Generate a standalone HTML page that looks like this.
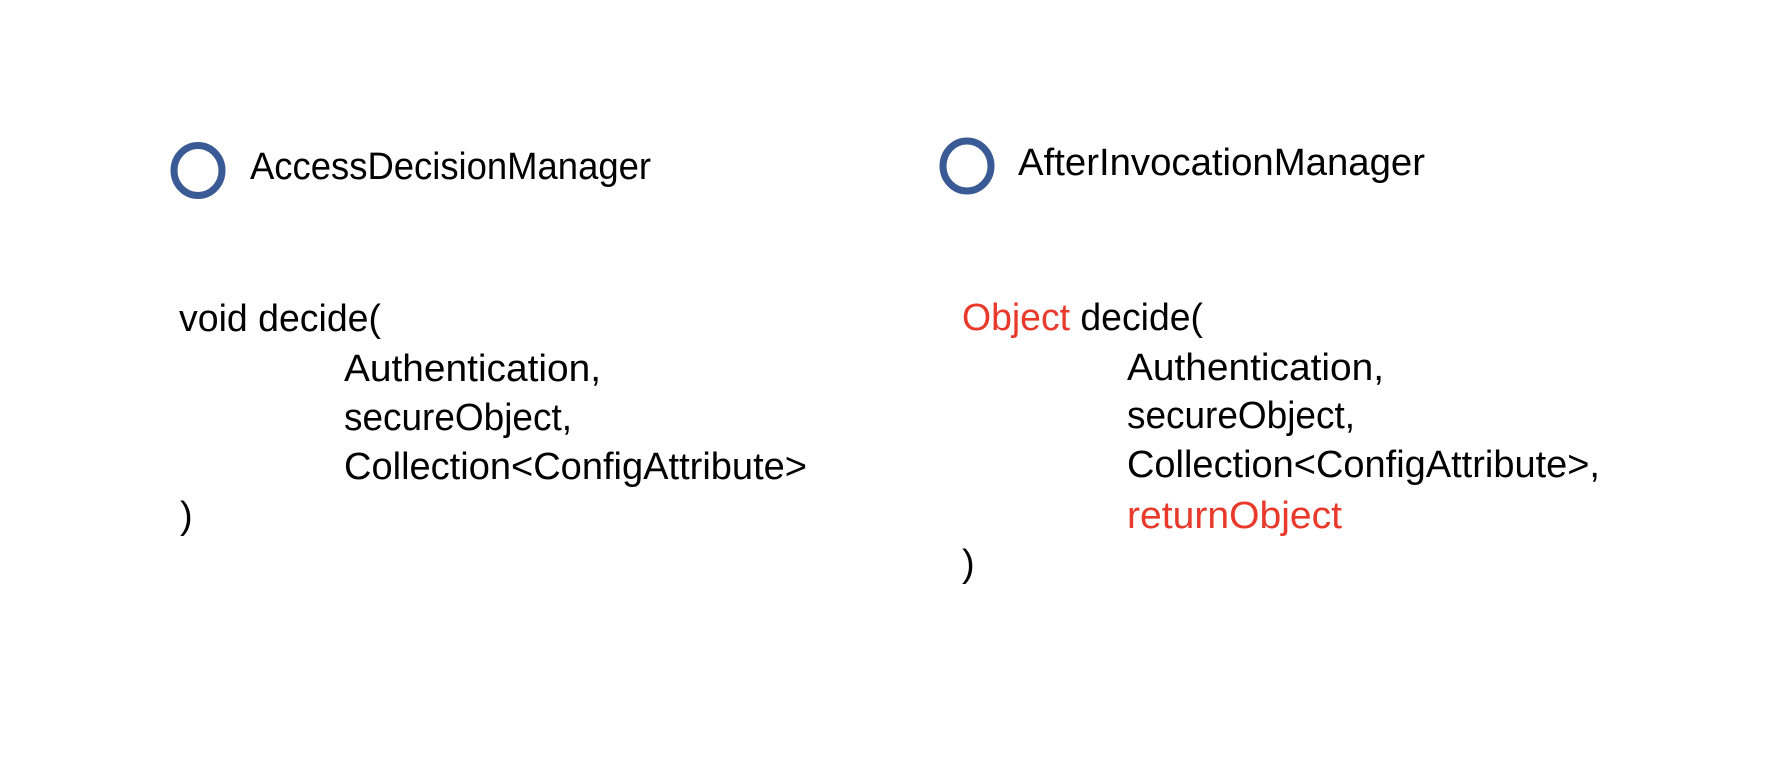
<!DOCTYPE html>
<html><head><meta charset="utf-8"><style>html,body{margin:0;padding:0;background:#fff}svg{display:block}</style></head>
<body>
<svg width="1770" height="776" viewBox="0 0 1770 776" xmlns="http://www.w3.org/2000/svg" font-family="Liberation Sans, sans-serif" font-size="38">
<rect width="1770" height="776" fill="#fff"/>
<ellipse cx="198" cy="170.5" rx="24" ry="25" fill="none" stroke="#3a5a95" stroke-width="7"/>
<ellipse cx="967" cy="166" rx="24" ry="25" fill="none" stroke="#3a5a95" stroke-width="7"/>
<g fill="#000">
<text x="250" y="179" textLength="401" lengthAdjust="spacingAndGlyphs">AccessDecisionManager</text>
<text x="179" y="331" textLength="202" lengthAdjust="spacingAndGlyphs">void decide(</text>
<text x="344" y="381" textLength="257" lengthAdjust="spacingAndGlyphs">Authentication,</text>
<text x="344" y="430" textLength="228" lengthAdjust="spacingAndGlyphs">secureObject,</text>
<text x="344" y="479" textLength="463" lengthAdjust="spacingAndGlyphs">Collection&lt;ConfigAttribute&gt;</text>
<text x="180" y="528">)</text>

<text x="1018" y="175" textLength="407" lengthAdjust="spacingAndGlyphs">AfterInvocationManager</text>
<text x="962" y="330" textLength="241" lengthAdjust="spacingAndGlyphs"><tspan fill="#e8392a">Object</tspan> decide(</text>
<text x="1127" y="380" textLength="257" lengthAdjust="spacingAndGlyphs">Authentication,</text>
<text x="1127" y="428" textLength="228" lengthAdjust="spacingAndGlyphs">secureObject,</text>
<text x="1127" y="477" textLength="473" lengthAdjust="spacingAndGlyphs">Collection&lt;ConfigAttribute&gt;,</text>
<text x="1127" y="528" textLength="215" lengthAdjust="spacingAndGlyphs" fill="#e8392a">returnObject</text>
<text x="962" y="576">)</text>
</g>
</svg>
</body></html>
